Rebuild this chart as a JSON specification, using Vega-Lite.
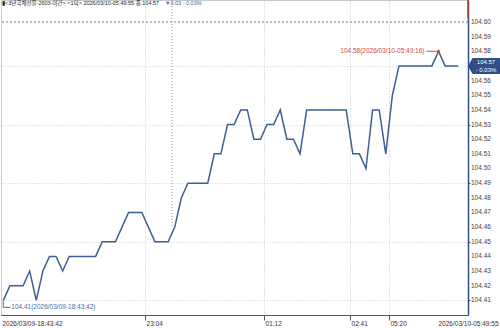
{
  "$schema": "https://vega.github.io/schema/vega-lite/v6.json",
  "autosize": {"type": "none"},
  "padding": {"left": 1, "top": 0, "right": 32, "bottom": 13},
  "width": 467,
  "height": 315,
  "background": "white",
  "config": {
    "view": {"stroke": "#c8c8c8", "strokeWidth": 1},
    "font": "Liberation Sans, Noto Sans CJK KR",
    "text": {"font": "Liberation Sans, Noto Sans CJK KR"}
  },
  "datasets": {
    "series": [
      {"i": 0, "v": 104.41}, {"i": 1, "v": 104.42}, {"i": 2, "v": 104.42}, {"i": 3, "v": 104.42},
      {"i": 4, "v": 104.43}, {"i": 5, "v": 104.41}, {"i": 6, "v": 104.43}, {"i": 7, "v": 104.44},
      {"i": 8, "v": 104.44}, {"i": 9, "v": 104.43}, {"i": 10, "v": 104.44}, {"i": 11, "v": 104.44},
      {"i": 12, "v": 104.44}, {"i": 13, "v": 104.44}, {"i": 14, "v": 104.44}, {"i": 15, "v": 104.45},
      {"i": 16, "v": 104.45}, {"i": 17, "v": 104.45}, {"i": 18, "v": 104.46}, {"i": 19, "v": 104.47},
      {"i": 20, "v": 104.47}, {"i": 21, "v": 104.47}, {"i": 22, "v": 104.46}, {"i": 23, "v": 104.45},
      {"i": 24, "v": 104.45}, {"i": 25, "v": 104.45}, {"i": 26, "v": 104.46}, {"i": 27, "v": 104.48},
      {"i": 28, "v": 104.49}, {"i": 29, "v": 104.49}, {"i": 30, "v": 104.49}, {"i": 31, "v": 104.49},
      {"i": 32, "v": 104.51}, {"i": 33, "v": 104.51}, {"i": 34, "v": 104.53}, {"i": 35, "v": 104.53},
      {"i": 36, "v": 104.54}, {"i": 37, "v": 104.54}, {"i": 38, "v": 104.52}, {"i": 39, "v": 104.52},
      {"i": 40, "v": 104.53}, {"i": 41, "v": 104.53}, {"i": 42, "v": 104.54}, {"i": 43, "v": 104.52},
      {"i": 44, "v": 104.52}, {"i": 45, "v": 104.51}, {"i": 46, "v": 104.54}, {"i": 47, "v": 104.54},
      {"i": 48, "v": 104.54}, {"i": 49, "v": 104.54}, {"i": 50, "v": 104.54}, {"i": 51, "v": 104.54},
      {"i": 52, "v": 104.54}, {"i": 53, "v": 104.51}, {"i": 54, "v": 104.51}, {"i": 55, "v": 104.50},
      {"i": 56, "v": 104.54}, {"i": 57, "v": 104.54}, {"i": 58, "v": 104.51}, {"i": 59, "v": 104.55},
      {"i": 60, "v": 104.57}, {"i": 61, "v": 104.57}, {"i": 62, "v": 104.57}, {"i": 63, "v": 104.57},
      {"i": 64, "v": 104.57}, {"i": 65, "v": 104.57}, {"i": 66, "v": 104.58}, {"i": 67, "v": 104.57},
      {"i": 68, "v": 104.57}, {"i": 69, "v": 104.57}
    ],
    "yticks": [
      {"v": 104.41}, {"v": 104.42}, {"v": 104.43}, {"v": 104.44}, {"v": 104.45},
      {"v": 104.46}, {"v": 104.47}, {"v": 104.48}, {"v": 104.49}, {"v": 104.50},
      {"v": 104.51}, {"v": 104.52}, {"v": 104.53}, {"v": 104.54}, {"v": 104.55},
      {"v": 104.56}, {"v": 104.58}, {"v": 104.59}, {"v": 104.60}
    ],
    "high": [{"i": 66, "v": 104.58, "label": "104.58(2026/03/10-05:49:16)"}],
    "low": [{"i": 0, "v": 104.41, "label": "104.41(2026/03/09-18:43:42)"}],
    "last": [{"i": 70.47, "v": 104.57, "price": "104.57", "change": "- 0.03%"}],
    "one": [{}]
  },
  "layer": [
    {
      "data": {"name": "series"},
      "mark": {"type": "line", "stroke": "#3e5e92", "strokeWidth": 1.5, "strokeJoin": "miter"},
      "encoding": {
        "x": {
          "field": "i", "type": "quantitative",
          "scale": {"domain": [-0.35, 70.47], "nice": false, "zero": false},
          "axis": {
            "orient": "bottom",
            "title": null,
            "values": [-0.35, 21.49, 39.54, 52.58, 58.49, 70.47],
            "labelExpr": "datum.value < 0 ? '2026/03/09-18:43:42' : datum.value < 30 ? '23:04' : datum.value < 45 ? '01:12' : datum.value < 55 ? '02:41' : datum.value < 60 ? '05:20' : '2026/03/10-05:49:55'",
            "labelAlign": {"condition": {"test": "datum.value > 70", "value": "right"}, "value": "left"},
            "labelOffset": {"condition": {"test": "datum.value > 70", "value": 30}, "value": 1},
            "labelFontSize": 6.5,
            "labelColor": "#333333",
            "labelPadding": 0,
            "labelBound": false,
            "labelFlush": false,
            "labelOverlap": false,
            "tickSize": 5,
            "tickColor": "#555555",
            "tickOpacity": {"condition": {"test": "datum.value < 0 || datum.value > 70", "value": 0}, "value": 1},
            "grid": true,
            "gridDash": [1, 2],
            "gridColor": "#c4c4c4",
            "gridOpacity": {"condition": {"test": "datum.value < 0 || datum.value > 70", "value": 0}, "value": 1},
            "domainColor": "#555555"
          }
        },
        "y": {
          "field": "v", "type": "quantitative",
          "scale": {"domain": [104.4, 104.615], "nice": false, "zero": false},
          "axis": {
            "orient": "right",
            "title": null,
            "values": [104.41, 104.42, 104.43, 104.44, 104.45, 104.46, 104.47, 104.48, 104.49, 104.5, 104.51, 104.52, 104.53, 104.54, 104.55, 104.56, 104.57, 104.58, 104.59, 104.6],
            "labels": false,
            "tickSize": 2,
            "tickColor": "#2f4f86",
            "domainColor": "#2f4f86",
            "domainWidth": 1.5,
            "grid": true,
            "gridDash": [1, 2],
            "gridColor": "#cfcfcf"
          }
        }
      }
    },
    {
      "data": {"name": "yticks"},
      "mark": {"type": "text", "align": "left", "baseline": "middle", "dx": 3, "fontSize": 6.5, "color": "#444444"},
      "encoding": {
        "x": {"datum": 70.47, "type": "quantitative"},
        "y": {"field": "v", "type": "quantitative"},
        "text": {"field": "v", "type": "quantitative", "format": ".2f"}
      }
    },
    {
      "data": {"name": "one"},
      "mark": {"type": "rule", "stroke": "#777777", "strokeDash": [2, 2], "strokeWidth": 1},
      "encoding": {"y": {"datum": 104.6, "type": "quantitative"}}
    },
    {
      "data": {"name": "one"},
      "mark": {"type": "rule", "stroke": "#999999", "strokeDash": [1, 2], "strokeWidth": 1},
      "encoding": {
        "x": {"datum": 25.58, "type": "quantitative"},
        "y": {"datum": 104.615, "type": "quantitative"},
        "y2": {"datum": 104.46}
      }
    },
    {
      "data": {"name": "one"},
      "mark": {"type": "rule", "stroke": "#c0392b", "strokeWidth": 1.5},
      "encoding": {
        "x": {"datum": 70.47, "type": "quantitative"},
        "y": {"datum": 104.615, "type": "quantitative"},
        "y2": {"datum": 104.6025}
      }
    },
    {
      "data": {"name": "high"},
      "mark": {"type": "rule", "stroke": "#cc4b3c", "strokeWidth": 1, "xOffset": -1, "x2Offset": -12},
      "encoding": {
        "x": {"field": "i", "type": "quantitative"},
        "x2": {"field": "i"},
        "y": {"field": "v", "type": "quantitative"}
      }
    },
    {
      "data": {"name": "high"},
      "mark": {"type": "point", "filled": true, "color": "#cc4b3c", "size": 8, "opacity": 1},
      "encoding": {
        "x": {"field": "i", "type": "quantitative"},
        "y": {"field": "v", "type": "quantitative"}
      }
    },
    {
      "data": {"name": "high"},
      "mark": {"type": "text", "align": "right", "baseline": "middle", "dx": -14, "fontSize": 6.5, "color": "#cc4b3c"},
      "encoding": {
        "x": {"field": "i", "type": "quantitative"},
        "y": {"field": "v", "type": "quantitative"},
        "text": {"field": "label"}
      }
    },
    {
      "data": {"name": "low"},
      "mark": {"type": "rule", "stroke": "#4a6fa5", "strokeWidth": 1, "y2Offset": 7},
      "encoding": {
        "x": {"field": "i", "type": "quantitative"},
        "y": {"field": "v", "type": "quantitative"},
        "y2": {"field": "v"}
      }
    },
    {
      "data": {"name": "low"},
      "mark": {"type": "rule", "stroke": "#4a6fa5", "strokeWidth": 1, "yOffset": 7, "y2Offset": 7, "x2Offset": 7},
      "encoding": {
        "x": {"field": "i", "type": "quantitative"},
        "x2": {"field": "i"},
        "y": {"field": "v", "type": "quantitative"},
        "y2": {"field": "v"}
      }
    },
    {
      "data": {"name": "low"},
      "mark": {"type": "text", "align": "left", "baseline": "middle", "dx": 8, "dy": 7, "fontSize": 6.5, "color": "#4a6fa5"},
      "encoding": {
        "x": {"field": "i", "type": "quantitative"},
        "y": {"field": "v", "type": "quantitative"},
        "text": {"field": "label"}
      }
    },
    {
      "data": {"name": "last"},
      "mark": {"type": "point", "filled": true, "color": "#2f4f86", "opacity": 1, "size": 1024, "xOffset": 16,
        "shape": "M -1 0 L -0.72 -0.5 L 1 -0.5 L 1 0.5 L -0.72 0.5 Z"},
      "encoding": {
        "x": {"field": "i", "type": "quantitative"},
        "y": {"field": "v", "type": "quantitative"}
      }
    },
    {
      "data": {"name": "last"},
      "mark": {"type": "text", "align": "center", "baseline": "middle", "dx": 18, "dy": -4, "fontSize": 6, "color": "white"},
      "encoding": {
        "x": {"field": "i", "type": "quantitative"},
        "y": {"field": "v", "type": "quantitative"},
        "text": {"field": "price"}
      }
    },
    {
      "data": {"name": "last"},
      "mark": {"type": "text", "align": "center", "baseline": "middle", "dx": 18, "dy": 4, "fontSize": 6, "color": "white"},
      "encoding": {
        "x": {"field": "i", "type": "quantitative"},
        "y": {"field": "v", "type": "quantitative"},
        "text": {"field": "change"}
      }
    },
    {
      "data": {"name": "one"},
      "mark": {"type": "text", "align": "left", "baseline": "top", "dx": 1, "dy": 1, "fontSize": 5.5, "font": "Liberation Sans Narrow, Liberation Sans, Noto Sans CJK KR", "color": "#222222"},
      "encoding": {
        "x": {"datum": -0.35, "type": "quantitative"},
        "y": {"datum": 104.615, "type": "quantitative"},
        "text": {"value": "▮<3년국채선물-2603-야간> <1틱> 2026/03/10-05:49:55 종:104.57"}
      }
    },
    {
      "data": {"name": "one"},
      "mark": {"type": "text", "align": "left", "baseline": "top", "dx": 164, "dy": 1, "fontSize": 5.5, "font": "Liberation Sans Narrow, Liberation Sans, Noto Sans CJK KR", "color": "#3a66b0"},
      "encoding": {
        "x": {"datum": -0.35, "type": "quantitative"},
        "y": {"datum": 104.615, "type": "quantitative"},
        "text": {"value": "▼0.03  - 0.03%"}
      }
    }
  ]
}
